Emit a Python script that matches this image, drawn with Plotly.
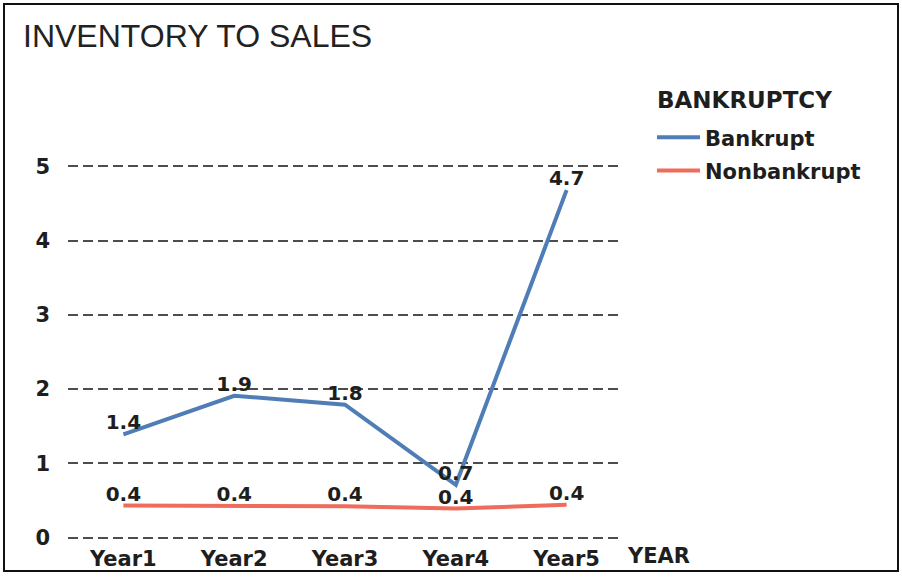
import plotly.graph_objects as go

# Inventory-to-sales ratio by year for the two company groups
years = ["Year1", "Year2", "Year3", "Year4", "Year5"]
bankrupt = [1.39, 1.91, 1.79, 0.71, 4.68]
nonbankrupt = [0.43, 0.43, 0.42, 0.39, 0.44]
y_ticks = [0, 1, 2, 3, 4, 5]

W, H = 902, 581
TITLE_FONT = "Liberation Sans, Arial, sans-serif"
BOLD_FONT = "DejaVu Sans, Verdana, sans-serif"
TXT = "#1e1e1e"

fig = go.Figure()

fig.add_trace(go.Scatter(
    x=years, y=bankrupt, name="Bankrupt", mode="lines+text",
    line=dict(color="#4f7db5", width=4),
    text=bankrupt, texttemplate="%{y:.1f}", textposition="top center",
    textfont=dict(family=BOLD_FONT, size=20, color=TXT, weight="bold"),
    legendgroup="b",
))
fig.add_trace(go.Scatter(
    x=years, y=nonbankrupt, name="Nonbankrupt", mode="lines+text",
    line=dict(color="#ef6b5c", width=4),
    text=nonbankrupt, texttemplate="%{y:.1f}", textposition="top center",
    textfont=dict(family=BOLD_FONT, size=20, color=TXT, weight="bold"),
    legendgroup="n",
))

# Plot area placed in pixel terms (margins are zero, so paper == page)
x0, x1 = 68, 622
ytop, ybot = 146, 549

fig.update_layout(
    width=W, height=H,
    margin=dict(l=0, r=0, t=0, b=0),
    paper_bgcolor="white", plot_bgcolor="white",
    font=dict(family=BOLD_FONT, color=TXT),
    showlegend=True,
    legend=dict(
        x=652 / W, y=1 - 119 / H, xanchor="left", yanchor="top",
        font=dict(size=21, weight="bold", color=TXT),
        itemwidth=43, tracegroupgap=3, bgcolor="rgba(0,0,0,0)",
    ),
    xaxis=dict(
        domain=[x0 / W, x1 / W], range=[-0.5, 4.5],
        showgrid=False, zeroline=False, showline=False, ticks="",
        tickfont=dict(size=21, weight="bold", color=TXT),
        ticklabelstandoff=4,
    ),
    yaxis=dict(
        domain=[1 - ybot / H, 1 - ytop / H], range=[-0.04, 5.305],
        tickvals=y_ticks, showgrid=True, gridcolor="#4d4d4d", gridwidth=2,
        griddash="10px,5px", zeroline=False, showline=False, ticks="",
        tickfont=dict(size=21, weight="bold", color=TXT),
        ticklabelstandoff=17,
    ),
    shapes=[dict(
        type="rect", xref="paper", yref="paper",
        x0=4 / W, x1=898 / W, y0=1 - 580 / H, y1=1 - 4 / H,
        line=dict(color="#111", width=2), fillcolor="rgba(0,0,0,0)",
    )],
    annotations=[
        dict(text="INVENTORY TO SALES", xref="paper", yref="paper",
             x=21 / W, y=1 - 37 / H, xanchor="left", yanchor="middle",
             showarrow=False, font=dict(family=TITLE_FONT, size=32, color="#222")),
        dict(text="BANKRUPTCY", xref="paper", yref="paper",
             x=655 / W, y=1 - 102 / H, xanchor="left", yanchor="middle",
             showarrow=False, font=dict(size=23, weight="bold", color=TXT)),
        dict(text="YEAR", xref="paper", yref="paper",
             x=625 / W, y=1 - 565 / H, xanchor="left", yanchor="middle",
             showarrow=False, font=dict(size=21, weight="bold", color=TXT)),
    ],
)

fig.write_html("out.html")
